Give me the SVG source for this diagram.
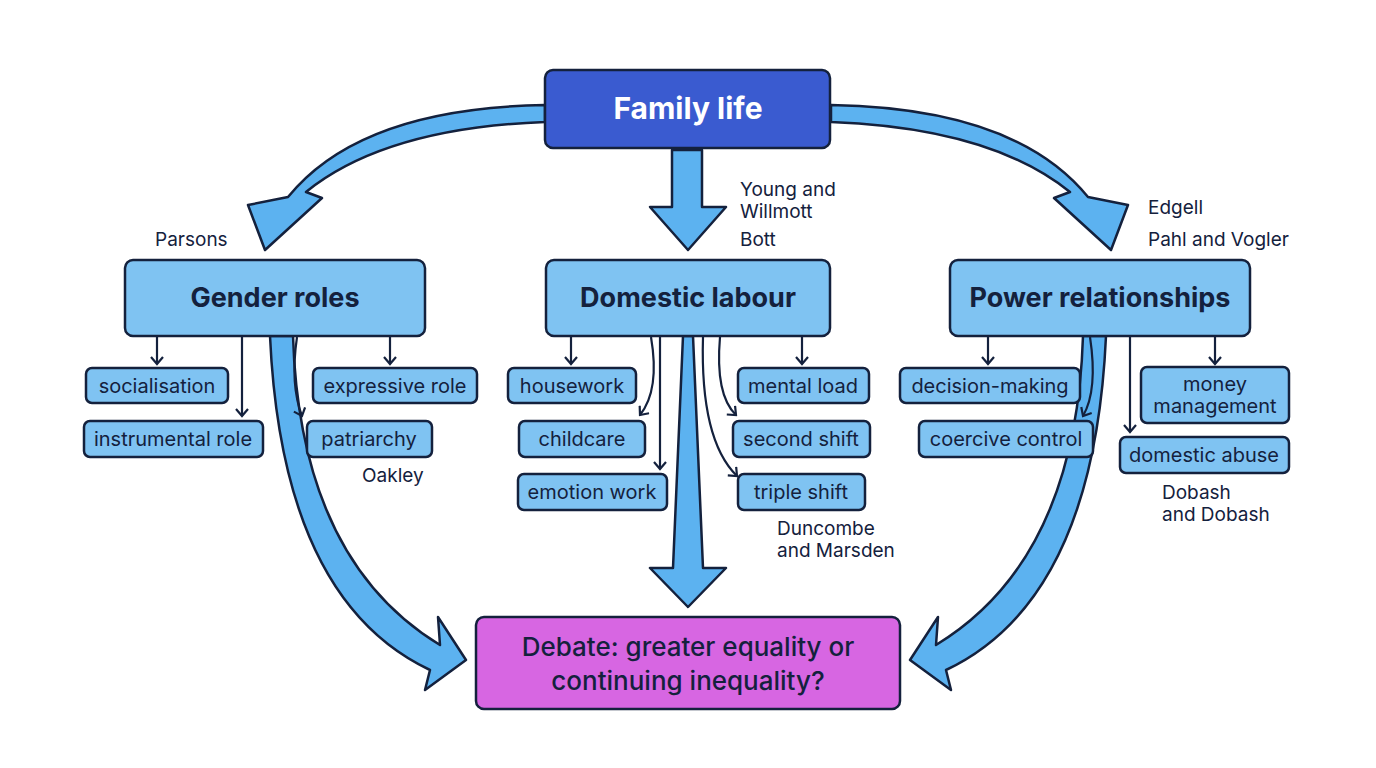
<svg xmlns="http://www.w3.org/2000/svg" width="1376" height="768" viewBox="0 0 1376 768">
<style>
text{font-family:Inter,"Liberation Sans",Arial,sans-serif;fill:#14213d}
.big{stroke:#14213d;stroke-width:2.5;stroke-linejoin:round}
.blk{fill:#5cb2f0;stroke:#14213d;stroke-width:2.5;stroke-linejoin:round}
.mid{fill:#7fc3f2}
.sm{fill:#7fc3f2;stroke:#14213d;stroke-width:2.5}
.st{font-size:20px;text-anchor:middle}
.mt{font-size:27px;font-weight:bold;text-anchor:middle}
.lb{font-size:19px}
.ln{fill:none;stroke:#14213d;stroke-width:2.2;marker-end:url(#ah)}
</style>
<defs>
<marker id="ah" viewBox="0 0 14 14" refX="12" refY="7" markerWidth="14" markerHeight="14" markerUnits="userSpaceOnUse" orient="auto">
<path d="M5,1 L12,7 L5,13" fill="none" stroke="#14213d" stroke-width="2.2"/>
</marker>
</defs>
<rect width="1376" height="768" fill="#fff"/>
<g id="connectors">
<path class="blk" d="M545,105 Q360,108 288,197 L248,205 L265,250 L322,198 L306,192 Q385,128 545,122 Z"/>
<path class="blk" transform="matrix(-1,0,0,1,1376,0)" d="M545,105 Q360,108 288,197 L248,205 L265,250 L322,198 L306,192 Q385,128 545,122 Z"/>
<path class="blk" d="M672,150 L702,150 L702,207 L726,207 L688,250 L650,207 L672,207 Z"/>
<path class="blk" d="M683,336 L693,336 L703,568 L726,568 L688,607 L650,568 L673,568 Z"/>
<path class="blk" d="M270,336 L293,336 Q300,560 440,645 L438,617 L466,660 L425,690 L430,670 Q282,600 270,336 Z"/>
<path class="blk" transform="matrix(-1,0,0,1,1376,0)" d="M270,336 L293,336 Q300,560 440,645 L438,617 L466,660 L425,690 L430,670 Q282,600 270,336 Z"/>
<path class="ln" d="M157,337 L157,364"/>
<path class="ln" d="M242,337 L242,416"/>
<path class="ln" d="M297,337 Q290,385 302,416"/>
<path class="ln" d="M390,337 L390,364"/>
<path class="ln" d="M571,337 L571,364"/>
<path class="ln" d="M651,337 Q660,390 640,415"/>
<path class="ln" d="M660,337 L660,469"/>
<path class="ln" d="M720,337 Q715,395 736,415"/>
<path class="ln" d="M703,337 Q700,440 737,476"/>
<path class="ln" d="M802,337 L802,364"/>
<path class="ln" d="M988,337 L988,364"/>
<path class="ln" d="M1090,337 Q1098,390 1083,416"/>
<path class="ln" d="M1130,337 L1130,432"/>
<path class="ln" d="M1215,337 L1215,364"/>
</g>
<g id="family"><rect x="545" y="70" width="285" height="78" rx="8" fill="#3a5bd0" class="big"/><text x="688" y="119" font-size="30" font-weight="bold" text-anchor="middle" style="fill:#fff">Family life</text></g>
<g id="gender"><rect x="125" y="260" width="300" height="76" rx="8" class="big mid"/><text x="275" y="307" class="mt">Gender roles</text></g>
<g id="domestic"><rect x="546" y="260" width="284" height="76" rx="8" class="big mid"/><text x="688" y="307" class="mt">Domestic labour</text></g>
<g id="power"><rect x="950" y="260" width="300" height="76" rx="8" class="big mid"/><text x="1100" y="307" class="mt">Power relationships</text></g>
<g id="debate"><rect x="476" y="617" width="424" height="92" rx="8" fill="#d766e2" class="big"/><text x="688" y="656" font-size="26" font-weight="500" text-anchor="middle">Debate: greater equality or</text><text x="688" y="690" font-size="26" font-weight="500" text-anchor="middle">continuing inequality?</text></g>
<g id="socialisation"><rect x="86" y="368" width="142" height="35" rx="6" class="sm"/><text x="157" y="393" class="st">socialisation</text></g>
<g id="instrumental"><rect x="84" y="421" width="179" height="36" rx="6" class="sm"/><text x="173" y="446" class="st">instrumental role</text></g>
<g id="expressive"><rect x="313" y="368" width="164" height="35" rx="6" class="sm"/><text x="395" y="393" class="st">expressive role</text></g>
<g id="patriarchy"><rect x="307" y="421" width="125" height="36" rx="6" class="sm"/><text x="369" y="446" class="st">patriarchy</text></g>
<g id="housework"><rect x="508" y="368" width="128" height="35" rx="6" class="sm"/><text x="572" y="393" class="st">housework</text></g>
<g id="childcare"><rect x="519" y="421" width="126" height="36" rx="6" class="sm"/><text x="582" y="446" class="st">childcare</text></g>
<g id="emotion"><rect x="518" y="474" width="149" height="36" rx="6" class="sm"/><text x="592" y="499" class="st">emotion work</text></g>
<g id="mental"><rect x="738" y="368" width="131" height="35" rx="6" class="sm"/><text x="803" y="393" class="st">mental load</text></g>
<g id="second"><rect x="733" y="421" width="137" height="36" rx="6" class="sm"/><text x="801" y="446" class="st">second shift</text></g>
<g id="triple"><rect x="738" y="474" width="127" height="36" rx="6" class="sm"/><text x="801" y="499" class="st">triple shift</text></g>
<g id="decision"><rect x="900" y="368" width="180" height="35" rx="6" class="sm"/><text x="990" y="393" class="st">decision-making</text></g>
<g id="coercive"><rect x="919" y="421" width="174" height="36" rx="6" class="sm"/><text x="1006" y="446" class="st">coercive control</text></g>
<g id="money"><rect x="1141" y="367" width="148" height="56" rx="6" class="sm"/><text x="1215" y="391" class="st">money</text><text x="1215" y="413" class="st">management</text></g>
<g id="abuse"><rect x="1120" y="437" width="169" height="36" rx="6" class="sm"/><text x="1204" y="462" class="st">domestic abuse</text></g>
<g id="labels">
<text x="155" y="246" class="lb">Parsons</text>
<text x="740" y="196" class="lb">Young and</text>
<text x="740" y="218" class="lb">Willmott</text>
<text x="740" y="246" class="lb">Bott</text>
<text x="1148" y="214" class="lb">Edgell</text>
<text x="1148" y="246" class="lb">Pahl and Vogler</text>
<text x="362" y="482" class="lb">Oakley</text>
<text x="777" y="535" class="lb">Duncombe</text>
<text x="777" y="557" class="lb">and Marsden</text>
<text x="1162" y="499" class="lb">Dobash</text>
<text x="1162" y="521" class="lb">and Dobash</text>
</g>
</svg>
